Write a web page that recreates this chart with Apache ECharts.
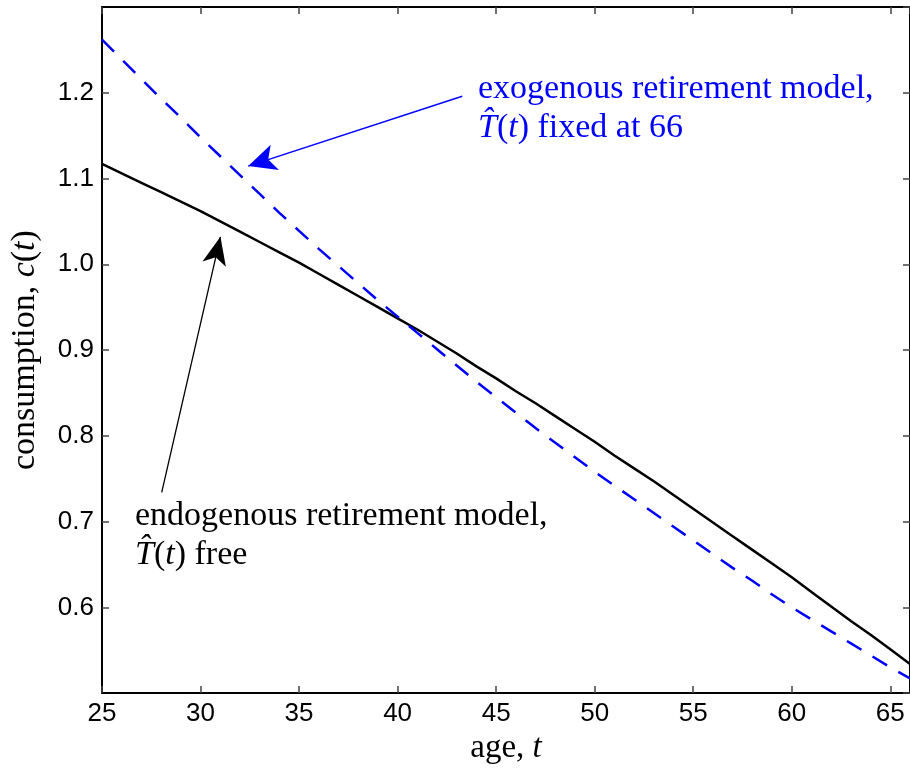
<!DOCTYPE html>
<html>
<head>
<meta charset="utf-8">
<title>consumption vs age</title>
<script src="https://cdn.jsdelivr.net/npm/echarts@6/dist/echarts.min.js"></script>
<style>
	html, body { margin: 0; padding: 0; background: #fff; }
	#chart { width: 910px; height: 770px; }
</style>
</head>
<body>
<div id="chart"></div>
<script>
	// ages (years)
	var ages = [25, 26, 27, 28, 29, 30, 31, 32, 33, 34, 35, 36, 37, 38, 39, 40, 41, 42, 43, 44, 45,
		46, 47, 48, 49, 50, 51, 52, 53, 54, 55, 56, 57, 58, 59, 60, 61, 62, 63, 64, 65, 66];
	// endogenous retirement model (black solid)
	var endogenous = [1.117, 1.106, 1.095, 1.084, 1.073, 1.062, 1.050, 1.038, 1.026, 1.014, 1.002,
		0.989, 0.976, 0.963, 0.950, 0.937, 0.924, 0.910, 0.896, 0.881, 0.867,
		0.852, 0.838, 0.823, 0.808, 0.793, 0.777, 0.762, 0.747, 0.731, 0.715,
		0.699, 0.683, 0.667, 0.651, 0.635, 0.618, 0.601, 0.584, 0.568, 0.551, 0.534];
	// exogenous retirement model (blue dashed)
	var exogenous = [1.262, 1.239, 1.216, 1.193, 1.171, 1.148, 1.126, 1.104, 1.082, 1.060, 1.039,
		1.018, 0.998, 0.978, 0.958, 0.939, 0.920, 0.901, 0.882, 0.863, 0.845,
		0.827, 0.809, 0.792, 0.775, 0.758, 0.742, 0.726, 0.710, 0.694, 0.678,
		0.662, 0.646, 0.631, 0.615, 0.600, 0.586, 0.572, 0.558, 0.544, 0.530, 0.517];
	// annotation arrows, [age, c] from tail to tip
	var exoArrow = [[43.28, 1.196], [32.42, 1.1145]];
	var endoArrow = [[28.03, 0.734], [31.01, 1.032]];

	var serif = '"Liberation Serif", "DejaVu Serif", serif';
	var sans = '"Liberation Sans", Arial, sans-serif';

	function pairs(xs, ys) {
		var out = [];
		for (var i = 0; i < xs.length; i++) {
			out.push([xs[i], ys[i]]);
		}
		return out;
	}

	var tickStyle = { show: true, inside: true, length: 7, lineStyle: { color: '#444', width: 1.5 } };
	var lineAxis = { show: true, lineStyle: { color: '#000', width: 2 } };

	var chart = echarts.init(document.getElementById('chart'));
	var option = {
		animation: false,
		backgroundColor: '#fff',
		grid: { left: 101, top: 7, right: -2, bottom: 73, containLabel: false },
		xAxis: [{
			type: 'value',
			min: 25,
			max: 66,
			interval: 5,
			name: '{r|age, }{i|t}',
			nameLocation: 'middle',
			nameGap: 35,
			nameTextStyle: {
				rich: {
					r: { fontFamily: serif, fontSize: 33, color: '#000' },
					i: { fontFamily: serif, fontSize: 33, fontStyle: 'italic', color: '#000' }
				}
			},
			axisLine: lineAxis,
			axisTick: tickStyle,
			splitLine: { show: false },
			axisLabel: {
				fontFamily: sans,
				fontSize: 26,
				color: '#000',
				margin: 8,
				showMaxLabel: false
			}
		}, {
			type: 'value',
			position: 'top',
			min: 25,
			max: 66,
			interval: 5,
			axisLine: lineAxis,
			axisTick: tickStyle,
			splitLine: { show: false },
			axisLabel: { show: false }
		}],
		yAxis: [{
			type: 'value',
			min: 0.5,
			max: 1.3,
			interval: 0.1,
			name: '{r|consumption, }{i|c}{r|(}{i|t}{r|)}',
			nameLocation: 'middle',
			nameGap: 60,
			nameRotate: 90,
			nameTextStyle: {
				rich: {
					r: { fontFamily: serif, fontSize: 34, color: '#000' },
					i: { fontFamily: serif, fontSize: 34, fontStyle: 'italic', color: '#000' }
				}
			},
			axisLine: lineAxis,
			axisTick: tickStyle,
			splitLine: { show: false },
			axisLabel: {
				fontFamily: sans,
				fontSize: 26,
				color: '#000',
				margin: 8,
				showMinLabel: false,
				showMaxLabel: false,
				formatter: function(v) {
					return v.toFixed(1);
				}
			}
		}, {
			type: 'value',
			position: 'right',
			min: 0.5,
			max: 1.3,
			interval: 0.1,
			axisLine: lineAxis,
			axisTick: tickStyle,
			splitLine: { show: false },
			axisLabel: { show: false }
		}],
		series: [{
			name: 'endogenous',
			type: 'line',
			data: pairs(ages, endogenous),
			showSymbol: false,
			lineStyle: { color: '#000', width: 2.5 },
			markLine: {
				silent: true,
				symbol: ['none', 'arrow'],
				symbolSize: [18, 28],
				label: { show: false },
				lineStyle: { color: '#000', width: 1.3, type: 'solid' },
				data: [[{ coord: endoArrow[0] }, { coord: endoArrow[1] }]]
			}
		}, {
			name: 'exogenous',
			type: 'line',
			data: pairs(ages, exogenous),
			showSymbol: false,
			lineStyle: { color: '#0000ff', width: 2.5, type: [17, 13] },
			markLine: {
				silent: true,
				symbol: ['none', 'arrow'],
				symbolSize: [20, 28],
				label: { show: false },
				lineStyle: { color: '#0000ff', width: 1.5, type: 'solid' },
				data: [[{ coord: exoArrow[0] }, { coord: exoArrow[1] }]]
			}
		}],
		graphic: [{
			type: 'text',
			left: 478,
			top: 72,
			style: {
				text: '{r|exogenous retirement model,}\n{i|T\u0302}{r|(}{i|t}{r|) fixed at 66}',
				rich: {
					r: { fontFamily: serif, fontSize: 34, lineHeight: 39, fill: '#0000ff' },
					i: { fontFamily: serif, fontSize: 34, lineHeight: 39, fontStyle: 'italic', fill: '#0000ff' }
				}
			}
		}, {
			type: 'text',
			left: 135,
			top: 499,
			style: {
				text: '{r|endogenous retirement model,}\n{i|T\u0302}{r|(}{i|t}{r|) free}',
				rich: {
					r: { fontFamily: serif, fontSize: 34, lineHeight: 39, fill: '#000' },
					i: { fontFamily: serif, fontSize: 34, lineHeight: 39, fontStyle: 'italic', fill: '#000' }
				}
			}
		}]
	};
	chart.setOption(option);
</script>
</body>
</html>
